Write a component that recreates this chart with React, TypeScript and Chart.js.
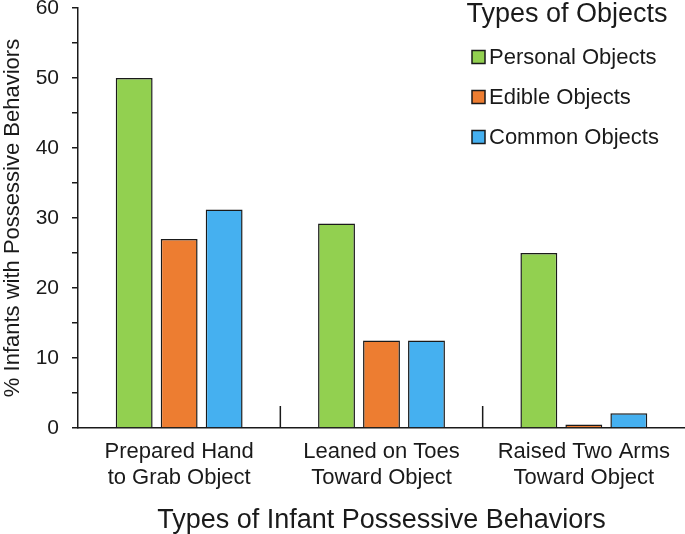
import React, { useEffect, useRef } from "react";
import { Chart, registerables } from "chart.js";

Chart.register(...registerables);

const categories: string[][] = [
  ["Prepared Hand", "to Grab Object"],
  ["Leaned on Toes", "Toward Object"],
  ["Raised Two Arms", "Toward Object"],
];
const personalObjects = [50, 29.2, 25];
const edibleObjects = [27, 12.5, 0.5];
const commonObjects = [31.2, 12.5, 2.1];
const seriesNames = ["Personal Objects", "Edible Objects", "Common Objects"];
const seriesColors = ["#92D050", "#ED7D31", "#45B0F0"];
const yTickValues = [0, 10, 20, 30, 40, 50, 60];

const FONT = "'Liberation Sans', Arial, sans-serif";
const INK = "#1a1a1a";

const separatorPlugin = {
  id: "categorySeparators",
  afterDatasetsDraw(chart: any) {
    const x = chart.scales.x;
    const y = chart.scales.y;
    const ctx = chart.ctx;
    const n = chart.data.labels.length;
    ctx.save();
    ctx.strokeStyle = INK;
    ctx.lineWidth = 1.5;
    const base = y.getPixelForValue(0);
    for (let i = 0; i < n - 1; i++) {
      const px = (x.getPixelForValue(i) + x.getPixelForValue(i + 1)) / 2;
      ctx.beginPath();
      ctx.moveTo(px, base);
      ctx.lineTo(px, base - 22);
      ctx.stroke();
    }
    ctx.restore();
  },
};

const legendPlugin = {
  id: "customLegend",
  afterDraw(chart: any) {
    const ctx = chart.ctx;
    ctx.save();
    ctx.fillStyle = INK;
    ctx.textBaseline = "middle";
    ctx.textAlign = "center";
    ctx.font = `27px ${FONT}`;
    ctx.fillText("Types of Objects", 567, 15);
    ctx.textAlign = "left";
    ctx.font = `22px ${FONT}`;
    chart.data.datasets.forEach((ds: any, i: number) => {
      const cy = 57 + i * 40;
      ctx.fillStyle = ds.backgroundColor;
      ctx.fillRect(472, cy - 6.5, 13, 13);
      ctx.strokeStyle = INK;
      ctx.lineWidth = 1.5;
      ctx.strokeRect(472, cy - 6.5, 13, 13);
      ctx.fillStyle = INK;
      ctx.fillText(ds.label, 489, cy + 1);
    });
    ctx.restore();
  },
};

export default function App() {
  const ref = useRef<HTMLCanvasElement | null>(null);

  useEffect(() => {
    if (!ref.current) return;
    const values = [personalObjects, edibleObjects, commonObjects];
    const chart = new Chart(ref.current, {
      type: "bar",
      data: {
        labels: categories,
        datasets: seriesNames.map((name, i) => ({
          label: name,
          data: values[i],
          backgroundColor: seriesColors[i],
          borderColor: INK,
          borderWidth: 1.5,
          categoryPercentage: 0.667,
          barPercentage: 0.82,
        })),
      },
      options: {
        animation: false,
        responsive: true,
        maintainAspectRatio: false,
        layout: { padding: { top: 0, right: 0, bottom: 0, left: 0 } },
        plugins: {
          legend: { display: false },
          tooltip: { enabled: false },
        },
        scales: {
          x: {
            grid: { display: false, drawTicks: false },
            border: { display: true, color: INK, width: 1.5 },
            ticks: {
              color: INK,
              padding: 11,
              maxRotation: 0,
              autoSkip: false,
              font: { family: FONT, size: 22, lineHeight: 1.18 },
            },
            title: {
              display: true,
              text: "Types of Infant Possessive Behaviors",
              color: INK,
              font: { family: FONT, size: 27, lineHeight: 1 },
              padding: { top: 0, bottom: 0 },
            },
            afterFit: (s: any) => {
              s.height = 106;
              s.paddingLeft = 0;
              s.paddingRight = 0;
            },
          },
          y: {
            min: 0,
            max: 60,
            grid: {
              display: true,
              drawOnChartArea: false,
              drawTicks: true,
              tickLength: 6,
              color: INK,
              lineWidth: 1.5,
            },
            border: { display: true, color: INK, width: 1.5 },
            ticks: {
              stepSize: 5,
              color: INK,
              padding: 13,
              font: { family: FONT, size: 21 },
              callback: (v: any) => (yTickValues.includes(Number(v)) ? String(v) : ""),
            },
            title: {
              display: true,
              text: "% Infants with Possessive Behaviors",
              color: INK,
              font: { family: FONT, size: 22, lineHeight: 1.2 },
              padding: { top: 0, bottom: 0 },
            },
            afterFit: (s: any) => {
              s.width = 78;
              s.paddingTop = 8;
              s.paddingBottom = 0;
            },
          },
        },
      },
      plugins: [separatorPlugin, legendPlugin],
    });
    return () => chart.destroy();
  }, []);

  return (
    <div
      style={{
        position: "fixed",
        left: 0,
        top: 0,
        width: 685,
        height: 534,
        overflow: "hidden",
        background: "#fff",
      }}
    >
      <canvas ref={ref} />
    </div>
  );
}
